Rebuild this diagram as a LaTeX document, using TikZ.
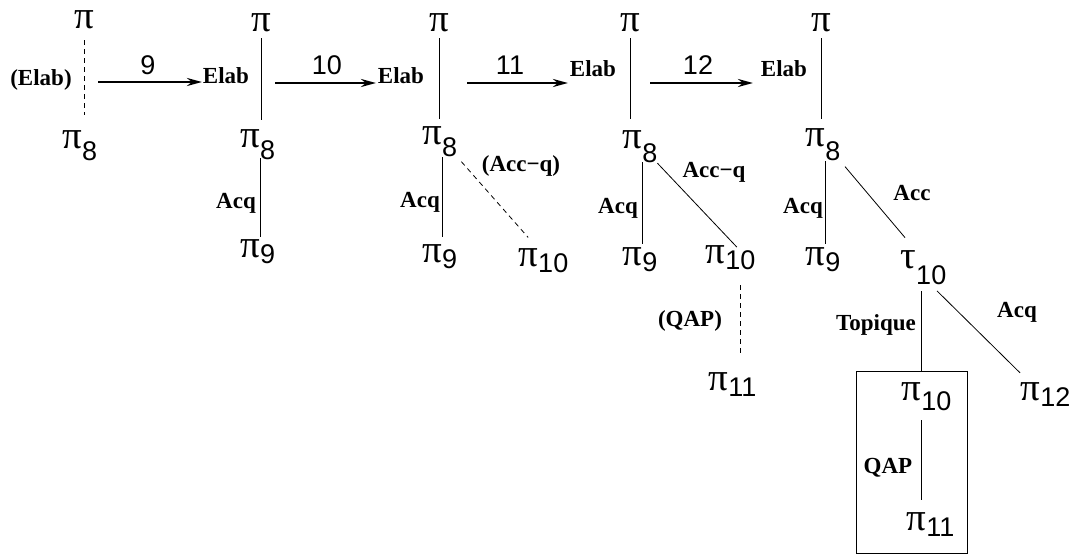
\documentclass[tikz,border=0pt]{standalone}
\usepackage{fontspec}
\setmainfont{Liberation Serif}
\newfontfamily\digits{Liberation Sans}
\usetikzlibrary{arrows.meta}

\begin{document}
\begin{tikzpicture}[x=1pt,y=-1pt,>=Stealth,
  glyph/.style={inner sep=0pt,font=\fontsize{39}{39}\selectfont},
  idx/.style={inner sep=0pt,anchor=base west,font=\digits\fontsize{27}{27}\selectfont},
  rel/.style={inner sep=1pt,font=\bfseries\fontsize{23}{23}\selectfont},
  stepnum/.style={inner sep=0pt,font=\digits\fontsize{27}{27}\selectfont},
  link/.style={line width=.8pt},
  optlink/.style={link,dash pattern=on 5pt off 4pt},
  move/.style={->,line width=2.6pt,>={Stealth[length=15pt,width=8pt]}}]
\useasboundingbox (0,0) rectangle (1072,554);
\newcommand{\pis}[5][-6pt]{\node[glyph] (#2) at (#3) {#4}; \node[idx,yshift=#1] (#2-i) at (#2.base east) {#5};}
% tree 1
\node[glyph] (t1a) at (84,20) {π};
\pis[-12pt]{t1b}{72,140}{π}{8}
\node[rel] (t1l) at (41,80) {(Elab)};
\draw[optlink,shorten <=11pt,shorten >=16pt] (t1a) -- (t1b.north -| t1a);
% step 9
\coordinate (m1s) at (98,82); \coordinate (m1e) at (202,82);
\draw[move] (m1s) -- (m1e);
\node[stepnum] (n1) at (148,65) {9};
% tree 2
\node[glyph] (t2a) at (261,23) {π};
\pis[-12pt]{t2b}{250,139}{π}{8}
\pis{t2c}{250,249}{π}{9}
\node[rel] (t2l) at (226,76) {Elab};
\node[rel] (t2q) at (236,203) {Acq};
\draw[link,shorten <=6pt,shorten >=10pt] (t2a) -- (t2b.north -| t2a);
\draw[link,shorten <=10pt,shorten >=3pt] (t2b.south east) -- (t2c.north east);
% step 10
\coordinate (m2s) at (275,83); \coordinate (m2e) at (376,83);
\draw[move] (m2s) -- (m2e);
\node[stepnum] (n2) at (327,65) {10};
% tree 3
\node[glyph] (t3a) at (439,23) {π};
\pis[-12pt]{t3b}{432,136}{π}{8}
\pis{t3c}{432,254}{π}{9}
\pis{t3d}{528,258}{π}{10}
\node[rel] (t3l) at (401,76) {Elab};
\node[rel] (t3q) at (420,202) {Acq};
\node[rel] (t3r) at (521,166) {(Acc−q)};
\draw[link,shorten <=6pt,shorten >=8pt] (t3a) -- (t3b.north -| t3a);
\draw[link,shorten <=12pt,shorten >=8pt] (t3b.south east) -- (t3c.north east);
\draw[optlink,shorten <=6pt,shorten >=15pt] (t3b-i.south east) -- (t3d.north east);
% step 11
\coordinate (m3s) at (467,83); \coordinate (m3e) at (568,83);
\draw[move] (m3s) -- (m3e);
\node[stepnum] (n3) at (510,65) {11};
% tree 4
\node[glyph] (t4a) at (630,23) {π};
\pis[-14pt]{t4b}{632,140}{π}{8}
\pis{t4c}{632,257}{π}{9}
\pis{t4d}{715,255}{π}{10}
\pis{t4e}{718,382}{π}{11}
\node[rel] (t4l) at (593,69) {Elab};
\node[rel] (t4q) at (618,208) {Acq};
\node[rel] (t4r) at (714,172) {Acc−q};
\node[rel] (t4s) at (690,321) {(QAP)};
\draw[link,shorten <=6pt,shorten >=12pt] (t4a) -- (t4b.north -| t4a);
\draw[link,shorten <=13pt,shorten >=4pt] (t4b.south east) -- (t4c.north east);
\draw[link,shorten >=5pt] (t4b-i.south east) -- (t4d-i.north);
\draw[optlink,shorten <=15pt,shorten >=22pt] (t4d-i.south) -- (t4d-i.south |- t4e-i.north);
% step 12
\coordinate (m4s) at (650,83); \coordinate (m4e) at (753,83);
\draw[move] (m4s) -- (m4e);
\node[stepnum] (n4) at (698,65) {12};
% tree 5
\node[glyph] (t5a) at (821,23) {π};
\pis[-14pt]{t5b}{815,138}{π}{8}
\pis{t5c}{815,257}{π}{9}
\pis[-16pt]{t5d}{908,260}{τ}{10}
\pis{t5f}{1030,392}{π}{12}
\node[rel] (t5l) at (784,69) {Elab};
\node[rel] (t5q) at (803,208) {Acq};
\node[rel] (t5r) at (912,193) {Acc};
\node[rel] (t5t) at (876,325) {Topique};
\node[rel] (t5s) at (1017,312) {Acq};
\node[draw,link,inner sep=0pt,minimum width=111pt,minimum height=182pt] (box) at (911.5,462) {};
\pis[-10pt]{b10}{911,392}{π}{10}
\pis{b11}{916,522}{π}{11}
\node[rel] (bq) at (888,468) {QAP};
\draw[link,shorten <=6pt,shorten >=10pt] (t5a) -- (t5b.north -| t5a);
\draw[link,shorten <=14pt,shorten >=4pt] (t5b.south east) -- (t5c.north east);
\draw[link,shorten <=7pt,shorten >=17pt] (t5b-i.south east) -- (t5d.north east);
\draw[link,shorten <=6pt] (t5d-i.south -| b10-i.west) -- (box.north -| b10-i.west);
\draw[link,shorten <=8pt,shorten >=14pt] (t5d-i.south) -- (t5f.north);
\draw[link,shorten <=9pt,shorten >=18pt] (b10-i.south west) -- (b10-i.south west |- b11-i.north);
\end{tikzpicture}
\end{document}
